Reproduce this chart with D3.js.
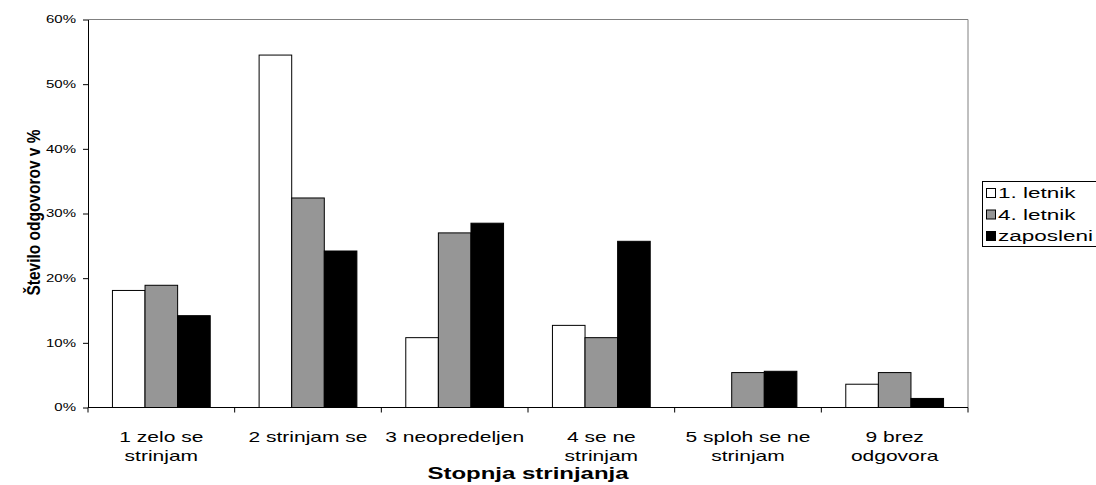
<!DOCTYPE html>
<html>
<head>
<meta charset="utf-8">
<script src="https://cdn.jsdelivr.net/npm/d3@7"></script>
<style>
  body { margin: 0; background: #fff; }
  svg text { font-family: "Liberation Sans", Arial, sans-serif; }
</style>
</head>
<body>
<div id="chart"></div>
<script>
const categories = [
  ["1 zelo se", "strinjam"],
  ["2 strinjam se"],
  ["3 neopredeljen"],
  ["4 se ne", "strinjam"],
  ["5 sploh se ne", "strinjam"],
  ["9 brez", "odgovora"]
];
const seriesNames = ["1. letnik", "4. letnik", "zaposleni"];
const letnik1 = [18.1, 54.5, 10.8, 12.7, 0, 3.6];
const letnik4 = [18.9, 32.4, 27.0, 10.8, 5.4, 5.4];
const zaposleni = [14.2, 24.2, 28.5, 25.7, 5.6, 1.4];
const yTicks = [0, 10, 20, 30, 40, 50, 60];
const colors = ["#ffffff", "#969696", "#000000"];

// horizontal text in the original is drawn wide; widen it to match
const sx = 1.5;

const width = 1096, height = 485;
const margin = { top: 19.5, right: 128, bottom: 77.5, left: 88 };
const innerWidth = width - margin.left - margin.right;
const innerHeight = height - margin.top - margin.bottom;

const svg = d3.select("#chart").append("svg")
  .attr("width", width).attr("height", height);
const g = svg.append("g").attr("transform", `translate(${margin.left},${margin.top})`);

const series = [letnik1, letnik4, zaposleni];
const idx = d3.range(categories.length);

const x = d3.scaleBand().domain(idx).range([0, innerWidth]).paddingInner(0).paddingOuter(0);
const barW = x.bandwidth() / 4.5;  // gap = 150% of bar width
const xSeries = d3.scaleBand().domain(d3.range(3))
  .range([(x.bandwidth() - 3 * barW) / 2, (x.bandwidth() + 3 * barW) / 2]);
const y = d3.scaleLinear().domain([0, 60]).range([innerHeight, 0]);

// plot border (top & right)
g.append("path")
  .attr("d", `M0,0H${innerWidth}V${innerHeight}`)
  .attr("fill", "none").attr("stroke", "#808080").attr("stroke-width", 1);

// bars
series.forEach((vals, s) => {
  g.append("g").selectAll("rect").data(idx).join("rect")
    .attr("x", i => x(i) + xSeries(s))
    .attr("y", i => y(vals[i]))
    .attr("width", xSeries.bandwidth())
    .attr("height", i => innerHeight - y(vals[i]))
    .attr("fill", colors[s])
    .attr("stroke", "#000")
    .attr("stroke-width", 1)
    .attr("display", i => vals[i] > 0 ? null : "none");
});

// y axis
const yAxis = g.append("g")
  .call(d3.axisLeft(y).tickValues(yTicks).tickFormat(d => d + "%").tickSize(5).tickSizeOuter(0));
yAxis.select(".domain").attr("stroke", "#000");
yAxis.selectAll("text")
  .attr("font-size", 10).attr("fill", "#000")
  .attr("x", -12 / sx)
  .attr("transform", `scale(${sx},1)`);

// x axis with ticks at category boundaries
const xAxisG = g.append("g").attr("transform", `translate(0,${innerHeight})`);
xAxisG.append("line").attr("x1", 0).attr("x2", innerWidth).attr("stroke", "#000");
xAxisG.selectAll(".tk").data(d3.range(categories.length + 1)).join("line")
  .attr("class", "tk")
  .attr("x1", i => i * x.step()).attr("x2", i => i * x.step())
  .attr("y1", 0).attr("y2", 5).attr("stroke", "#000");
xAxisG.selectAll(".lbl").data(idx).join("text")
  .attr("class", "lbl")
  .attr("text-anchor", "middle")
  .attr("font-size", 14)
  .attr("fill", "#000")
  .attr("transform", i => `translate(${x(i) + x.bandwidth() / 2},0) scale(${sx},1)`)
  .each(function(i) {
    const t = d3.select(this);
    categories[i].forEach((line, k) => {
      t.append("tspan")
        .attr("x", 0)
        .attr("y", 34.5 + k * 19.5)
        .text(line);
    });
  });

// axis titles
svg.append("text")
  .attr("transform", `translate(${margin.left + innerWidth / 2},479) scale(${sx},1)`)
  .attr("text-anchor", "middle").attr("font-size", 16).attr("font-weight", "bold")
  .text("Stopnja strinjanja");
svg.append("text")
  .attr("transform", `translate(39.5,212.5) rotate(-90) scale(1,1.15)`)
  .attr("text-anchor", "middle").attr("font-size", 15.5).attr("font-weight", "bold")
  .text("Število odgovorov v %");

// legend
const leg = svg.append("g").attr("transform", "translate(982,181)");
leg.append("rect").attr("x", 0.5).attr("y", 0.5).attr("width", 130).attr("height", 65)
  .attr("fill", "#fff").attr("stroke", "#000");
seriesNames.forEach((name, s) => {
  const row = leg.append("g").attr("transform", `translate(0,${12 + s * 21.5})`);
  row.append("rect").attr("x", 4.5).attr("y", -4.5).attr("width", 9).attr("height", 9)
    .attr("fill", colors[s]).attr("stroke", "#000");
  row.append("text")
    .attr("transform", `translate(16,5) scale(${sx},1)`)
    .attr("font-size", 15).attr("fill", "#000").text(name);
});
</script>
</body>
</html>
